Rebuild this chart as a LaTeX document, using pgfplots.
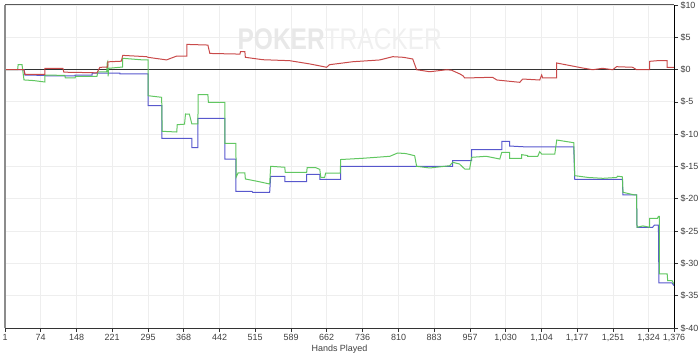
\documentclass[border=0pt]{standalone}
\usepackage{pgfplots}
\pgfplotsset{compat=1.18}
\usepackage{fontspec}
\setmainfont{Liberation Sans}
\definecolor{cred}{RGB}{198,64,64}
\definecolor{cgreen}{RGB}{88,196,88}
\definecolor{cblue}{RGB}{70,70,200}
\definecolor{cgrid}{RGB}{238,238,238}
\begin{document}
\begin{tikzpicture}
\begin{axis}[
  name=ax, at={(0,0)}, anchor=south west,
  scale only axis, width=669bp, height=323bp,
  xmin=1, xmax=1376, ymin=-40, ymax=10,
  axis line style={draw=none},
  xtick={1,74,148,221,295,368,442,515,589,662,736,810,883,957,1030,1104,1177,1251,1324,1376},
  xticklabels={1,74,148,221,295,368,442,515,589,662,736,810,883,957,{1,030},{1,104},{1,177},{1,251},{1,324},{1,376}},
  ytick={-40,-35,-30,-25,-20,-15,-10,-5,0,5,10},
  yticklabels={\$-40,\$-35,\$-30,\$-25,\$-20,\$-15,\$-10,\$-5,\$0,\$5,\$10},
  xtick pos=bottom, ytick pos=right,
  tick align=outside, major tick length=4bp,
  tick style={black!80, line width=0.6bp},
  yticklabel pos=right,
  ticklabel style={font=\fontsize{9}{10}\selectfont, text=black!75},
  yticklabel style={anchor=west, xshift=-1bp},
  xticklabel style={yshift=1bp},
  grid=major, major grid style={cgrid, line width=0.8bp},
  xlabel={Hands Played}, xlabel style={font=\fontsize{9}{10}\selectfont, text=black!75, yshift=4bp},
  clip=false,
]
\node[font=\fontsize{30}{30}\selectfont\bfseries, text=black!9, xscale=0.82] at (axis cs:689,4.7) {POKER\textcolor{black!6}{\mdseries TRACKER}};
\addplot[black!80, line width=0.9bp, forget plot] coordinates {(1,0) (1376,0)};
% blue
\addplot[cblue, line width=1bp, opacity=0.9] coordinates {
(1,0) (40,0) (42,-0.84) (83,-0.9) (85,-0.99) (145,-0.99) (145,-0.84) (180,-0.84) (180,-0.53) (237,-0.53) (237,-0.68) (295,-0.68)
(295,-5.59) (323.5,-5.59) (323.5,-10.63) (385,-10.63) (385,-12.09) (397.5,-12.09) (397.5,-7.54) (453,-7.54)
(453,-13.84) (475.6,-13.84) (475.6,-18.84) (508.5,-18.84) (510,-18.99) (545,-18.99) (547,-16.52) (576,-16.52)
(576,-17.35) (621,-17.35) (621,-16.21) (648,-16.21) (648,-16.98) (691,-16.98) (691,-14.97) (921,-14.97)
(921,-14.10) (960,-14.10) (960,-12.40) (1022,-12.40) (1022,-11.10) (1038,-11.10) (1038,-11.83) (1075,-11.98) (1170,-11.98)
(1172,-16.98) (1270,-16.98) (1271,-19.41) (1299,-19.41) (1300,-24.41) (1332,-24.41) (1336,-24.06) (1344,-24.06)
(1345,-33.03) (1372,-33.03) (1376,-33.45)
};
% green
\addplot[cgreen, line width=1bp, opacity=0.95] coordinates {
(1,0) (27,0) (28,0.76) (36,0.76) (40,-1.6) (60,-1.7) (83,-1.92) (83,-0.84) (124,-0.9) (125,-1.3) (145,-1.3)
(146,-1.04) (190,-1.04) (192,-0.37) (210,-0.37) (211,1.0) (212,1.2) (213,-1.04) (214,0.2) (243,0.4) (243,1.75) (284,1.5) (295,1.5)
(295,-4.04) (323,-4.29) (324,-9.55) (354,-9.66) (355,-8.53) (370,-8.45) (372,-6.87) (380,-6.9) (385,-8.42) (397.5,-8.42)
(398,-3.89) (418,-3.89) (419,-5.06) (453,-5.06) (453,-11.41) (475.6,-11.41) (476,-16.67) (480,-16.0) (494,-16.0)
(495,-16.93) (520,-17.3) (545,-17.71) (547,-14.97) (576,-15.12) (577,-15.90) (621,-15.90) (622,-15.19) (640,-15.19) (648,-15.45)
(650,-16.67) (658,-16.67) (660,-16.01) (690,-16.01) (691,-13.92) (736,-13.73) (760,-13.6) (792,-13.42) (808,-12.91) (825,-13.0) (843,-13.33)
(847,-14.97) (874,-15.23) (895,-15.05) (915,-14.88) (921,-14.35) (935,-14.61) (946,-15.39) (956,-15.39) (960,-13.58) (990,-13.42)
(1018,-13.84) (1022,-12.80) (1038,-12.80) (1038,-13.73) (1063,-13.73) (1063,-13.17) (1075,-13.3) (1075,-13.42) (1096,-13.42)
(1100,-12.71) (1104,-13.07) (1131,-13.07) (1135,-10.90) (1170,-11.32) (1172,-16.42) (1200,-16.7) (1230,-16.83) (1258,-16.7)
(1260,-16.5) (1270,-16.6) (1271,-18.99) (1295,-19.41) (1299,-19.41) (1300,-24.41) (1312,-24.2) (1326,-24.41)
(1326,-23.02) (1342,-23.02) (1344,-22.71) (1346,-22.71) (1346,-31.64) (1362,-31.64) (1363,-32.68) (1372,-32.68) (1376,-33.19)
};
% red
\addplot[cred, line width=1bp, opacity=0.95] coordinates {
(1,0) (40,0) (42,-0.75) (83,-0.75) (83,0.2) (120,0.2) (122,-0.4) (160,-0.45) (190,-0.5) (196,0.35) (212,0.4)
(212.6,1.2) (240,1.3) (243,2.2) (292,2.0) (295,1.9) (333,1.5) (354,2.1) (375,2.1) (375,3.9) (418,3.8) (422,2.5) (484,2.4)
(485,2.8) (494,2.8) (495,1.9) (531,1.53) (586,1.38) (628,0.87) (662,0.36) (668,0.76) (716,1.22) (771,1.49) (798,2.0)
(820,1.9) (839,1.64) (847,-0.02) (874,-0.33) (909,-0.02) (919,-0.1) (936,-0.68) (942,-0.94) (946,-1.3) (1003,-1.19) (1012,-1.61)
(1059,-1.97) (1065,-1.46) (1100,-1.61) (1104,-0.84) (1106,-1.3) (1135,-1.3) (1135,1.02) (1188,0.25) (1209,-0.02)
(1229,0.2) (1250,-0.02) (1258,0.45) (1291,0.36) (1299,-0.02) (1326,-0.02) (1326,1.28) (1342,1.38) (1362,1.38)
(1362,0.36) (1376,0.36)
};
\draw[black!45, line width=2bp] (rel axis cs:0,0) -- (rel axis cs:0,1);
\draw[black!65, line width=1bp] (rel axis cs:0,1) -- (rel axis cs:1,1);
\draw[black, line width=1bp] (rel axis cs:1,0) -- (rel axis cs:1,1);
\draw[black!80, line width=1bp] (rel axis cs:0,0) -- (rel axis cs:1,0);
\end{axis}
\pgfresetboundingbox
\path[use as bounding box] ([shift={(-5bp,-25bp)}]ax.south west) rectangle ([shift={(26bp,5bp)}]ax.north east);
\end{tikzpicture}
\end{document}
